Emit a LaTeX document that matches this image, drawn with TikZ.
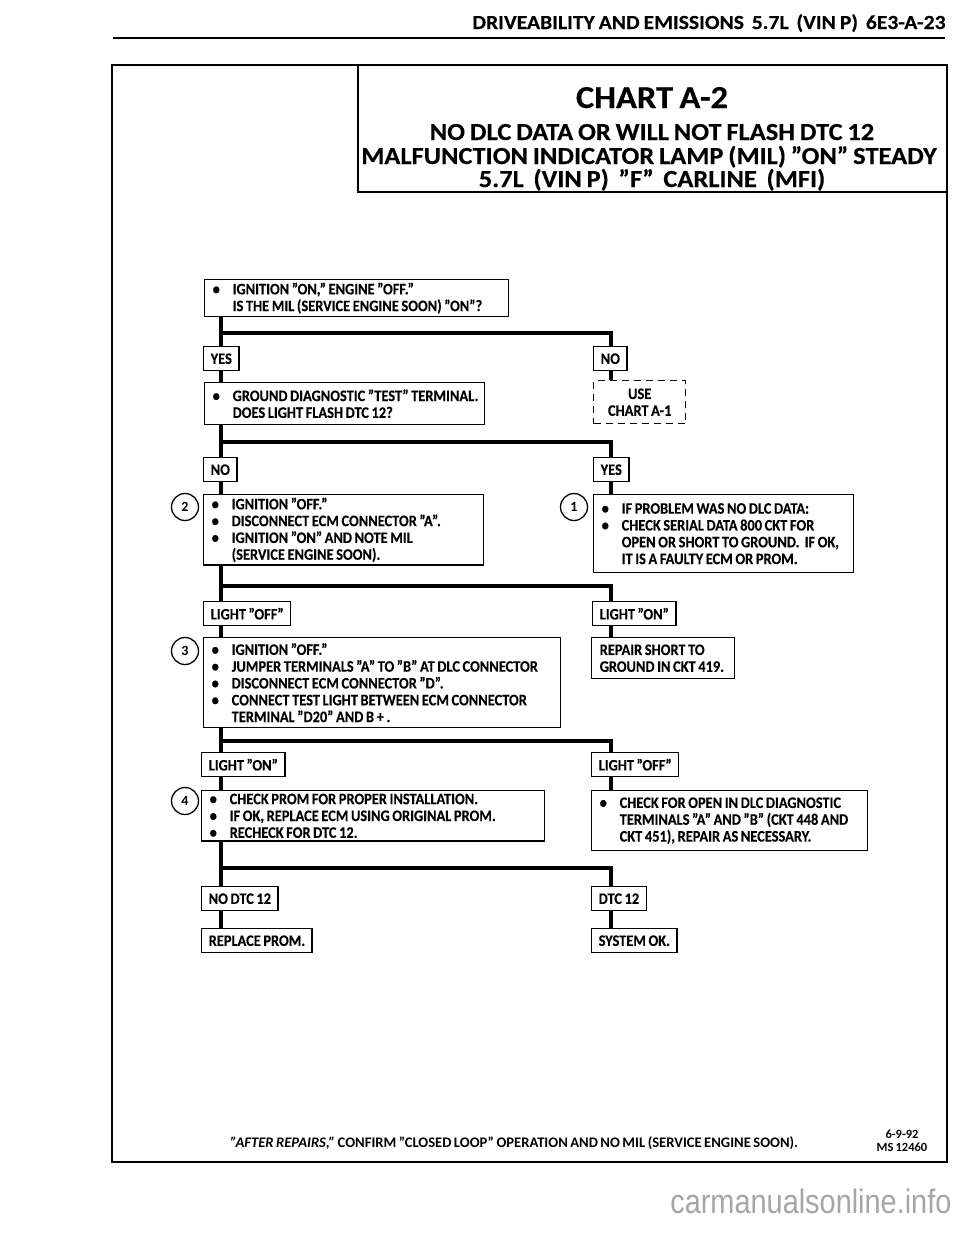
\documentclass[tikz,border=0pt]{standalone}
\usepackage{fontspec}
\setmainfont{Carlito}[WordSpace=0.75]
\newfontfamily\boxfont{Carlito}[FakeStretch=0.9,WordSpace=0.8,FakeBold=0.15]
\newfontfamily\widefont{Carlito}[FakeStretch=1.08,WordSpace=0.8,FakeBold=0.25]
\newfontfamily\markfont{Liberation Sans}[FakeStretch=0.85]
\usepackage{tikz}
\newcommand{\bul}[1]{\mbox{\spaceskip=0pt\xspaceskip=0pt\makebox[20pt][l]{\textbullet}#1}}
\newcommand{\ind}[1]{\mbox{\spaceskip=0pt\xspaceskip=0pt\hspace*{20pt}#1}}
\newcommand{\pl}[1]{\mbox{\spaceskip=0pt\xspaceskip=0pt #1}}

\begin{document}
\begin{tikzpicture}[x=1pt,y=-1pt,
		every node/.style={font=\boxfont\fontsize{16}{16.8}\selectfont\bfseries},
		box/.style={draw,line width=1.4pt,anchor=north west,inner xsep=8pt,inner ysep=3pt},
		txtbox/.style={box,align=left},
		lbl/.style={box,minimum height=24pt,inner xsep=7pt},
		circ/.style={draw,circle,line width=1.3pt,minimum size=27pt,inner sep=0pt,font=\fontsize{14}{14}\selectfont\bfseries},
		conn/.style={line width=4pt}]
			\fill[white] (0,0) rectangle (960,1250);
			\useasboundingbox (0,0) rectangle (960,1250);
			% page head
			\node[anchor=base east,font=\widefont\fontsize{20}{20}\selectfont\bfseries] (hdr) at (949,29) {DRIVEABILITY AND EMISSIONS\ \ 5.7L\ \ (VIN P)\ \ 6E3-A-23};
			\draw[line width=2pt] (113,38) -- (945,38);
			% frame and title
			\draw[line width=2.4pt] (112,65) rectangle (947,1162);
			\draw[line width=1.4pt] (358,65) -- (358,192) -- (947,192);
			\node[anchor=base,font=\widefont\fontsize{32}{32}\selectfont\bfseries] (ttl) at (652,108) {CHART A-2};
			\node[anchor=base,font=\widefont\fontsize{24.5}{24}\selectfont\bfseries] (ttlb) at (652,140) {NO DLC DATA OR WILL NOT FLASH DTC 12};
			\node[anchor=base,font=\widefont\fontsize{24.5}{24}\selectfont\bfseries] (ttlc) at (649,164) {MALFUNCTION INDICATOR LAMP (MIL) ”ON” STEADY};
			\node[anchor=base,font=\widefont\fontsize{24.5}{24}\selectfont\bfseries] (ttld) at (652,187) {5.7L\ \ (VIN P)\ \ ”F”\ \ CARLINE\ \ (MFI)};
			% left and right columns of the chart
			\coordinate (colL) at (221,0);
			\coordinate (colR) at (611,0);
			\coordinate (br1) at (221,333);
			\coordinate (br2) at (221,442);
			\coordinate (br3) at (221,586);
			\coordinate (br4) at (221,741);
			\coordinate (br5) at (221,868);
			% boxes
			\node[txtbox,text width=288pt,minimum height=36pt] (qA) at (204,279) {\bul{IGNITION ”ON,” ENGINE ”OFF.”}\\ \ind{IS THE MIL (SERVICE ENGINE SOON) ”ON”?}};
			\node[lbl] (yes1) at (203,346) {YES};
			\node[lbl] (no1) at (593,346) {NO};
			\node[txtbox,text width=264pt,minimum height=42pt] (qB) at (204,382) {\bul{GROUND DIAGNOSTIC ”TEST” TERMINAL.}\\ \ind{DOES LIGHT FLASH DTC 12?}};
			\node[box,dashed,dash pattern=on 7pt off 5pt,align=center,text width=76pt,minimum height=43pt] (useA) at (593,380) {\pl{USE}\\ \pl{CHART A-1}};
			\node[lbl] (no2) at (203,457) {NO};
			\node[lbl] (yes2) at (593,457) {YES};
			\node[txtbox,text width=264pt,minimum height=70pt] (chkA) at (203,494) {\bul{IGNITION ”OFF.”}\\ \bul{DISCONNECT ECM CONNECTOR ”A”.}\\ \bul{IGNITION ”ON” AND NOTE MIL}\\ \ind{(SERVICE ENGINE SOON).}};
			\node[txtbox,text width=244pt,minimum height=78pt] (serial) at (593,494) {\bul{IF PROBLEM WAS NO DLC DATA:}\\ \bul{CHECK SERIAL DATA 800 CKT FOR}\\ \ind{OPEN OR SHORT TO GROUND.\ \ IF OK,}\\ \ind{IT IS A FAULTY ECM OR PROM.}};
			\node[circ] (c2) at (185,507) {2};
			\node[circ] (c1) at (574,507) {1};
			\node[lbl] (off3) at (203,601) {LIGHT ”OFF”};
			\node[lbl] (on3) at (592,601) {LIGHT ”ON”};
			\node[txtbox,text width=341pt,minimum height=90pt] (jump) at (203,637) {\bul{IGNITION ”OFF.”}\\ \bul{JUMPER TERMINALS ”A” TO ”B” AT DLC CONNECTOR}\\ \bul{DISCONNECT ECM CONNECTOR ”D”.}\\ \bul{CONNECT TEST LIGHT BETWEEN ECM CONNECTOR}\\ \ind{TERMINAL ”D20” AND B\,+\,.}};
			\node[txtbox,text width=127pt,minimum height=41pt] (rep) at (591,637) {\pl{REPAIR SHORT TO}\\ \pl{GROUND IN CKT 419.}};
			\node[circ] (c3) at (185,651) {3};
			\node[lbl] (on4) at (201,752) {LIGHT ”ON”};
			\node[lbl] (off4) at (591,752) {LIGHT ”OFF”};
			\node[txtbox,text width=327pt,minimum height=50pt] (prom) at (201,790) {\bul{CHECK PROM FOR PROPER INSTALLATION.}\\ \bul{IF OK, REPLACE ECM USING ORIGINAL PROM.}\\ \bul{RECHECK FOR DTC 12.}};
			\node[txtbox,text width=260pt,minimum height=60pt] (open) at (591,790) {\bul{CHECK FOR OPEN IN DLC DIAGNOSTIC}\\ \ind{TERMINALS ”A” AND ”B” (CKT 448 AND}\\ \ind{CKT 451), REPAIR AS NECESSARY.}};
			\node[circ] (c4) at (185,801) {4};
			\node[lbl] (nodtc) at (201,886) {NO DTC 12};
			\node[lbl] (dtc) at (591,886) {DTC 12};
			\node[lbl] (repprom) at (201,928) {REPLACE PROM.};
			\node[lbl] (sysok) at (591,928) {SYSTEM OK.};
			% connectors
			\draw[conn] (qA.south -| colL) -- (yes1.north -| colL);
			\draw[conn] (br1) -| (no1.north -| colR);
			\draw[conn] (yes1.south -| colL) -- (qB.north -| colL);
			\draw[conn] (no1.south -| colR) -- (useA.north -| colR);
			\draw[conn] (qB.south -| colL) -- (no2.north -| colL);
			\draw[conn] (br2) -| (yes2.north -| colR);
			\draw[conn] (no2.south -| colL) -- (chkA.north -| colL);
			\draw[conn] (yes2.south -| colR) -- (serial.north -| colR);
			\draw[conn] (chkA.south -| colL) -- (off3.north -| colL);
			\draw[conn] (br3) -| (on3.north -| colR);
			\draw[conn] (off3.south -| colL) -- (jump.north -| colL);
			\draw[conn] (on3.south -| colR) -- (rep.north -| colR);
			\draw[conn] (jump.south -| colL) -- (on4.north -| colL);
			\draw[conn] (br4) -| (off4.north -| colR);
			\draw[conn] (on4.south -| colL) -- (prom.north -| colL);
			\draw[conn] (off4.south -| colR) -- (open.north -| colR);
			\draw[conn] (prom.south -| colL) -- (nodtc.north -| colL);
			\draw[conn] (br5) -| (dtc.north -| colR);
			\draw[conn] (nodtc.south -| colL) -- (repprom.north -| colL);
			\draw[conn] (dtc.south -| colR) -- (sysok.north -| colR);
			% foot
			\node[anchor=base west,font=\fontsize{14.6}{16}\selectfont\bfseries] (note) at (227,1147) {{\itshape ”AFTER REPAIRS,”} CONFIRM ”CLOSED LOOP” OPERATION AND NO MIL (SERVICE ENGINE SOON).};
			\node[align=center,font=\fontsize{12.5}{13}\selectfont\bfseries] (code) at (902,1141) {\pl{6-9-92}\\ \pl{MS 12460}};
			\node[anchor=base east,font=\markfont\fontsize{34}{34}\selectfont,text=black!35] (wm) at (955,1213) {carmanualsonline.info};
		\end{tikzpicture}
\end{document}
